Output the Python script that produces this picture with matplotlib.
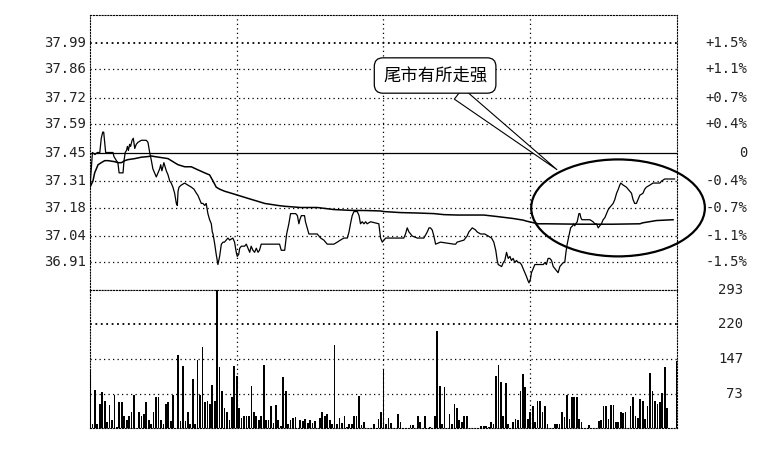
import matplotlib
matplotlib.use('Agg')
import matplotlib.pyplot as plt
from matplotlib.patches import Ellipse
from matplotlib.transforms import blended_transform_factory

# ---------------- data ----------------
prev_close = 37.45
price_labels = ["37.99", "37.86", "37.72", "37.59", "37.45", "37.31", "37.18", "37.04", "36.91"]
price_levels = [37.99, 37.86, 37.72, 37.59, 37.45, 37.31, 37.18, 37.04, 36.91]
pct_labels = ["+1.5%", "+1.1%", "+0.7%", "+0.4%", "0", "-0.4%", "-0.7%", "-1.1%", "-1.5%"]
vol_levels = [293, 220, 147, 73]
vol_labels = ["293", "220", "147", "73"]
session_marks = [60, 120, 180]

price_min = [0, 1, 2, 3, 4, 4.6, 5.2, 5.6, 6, 6.4, 9.4, 9.8, 10.8, 11.4, 11.9, 13.5, 13.9, 14.4, 14.9,
             15.3, 15.7, 16.2, 16.6, 17.2, 17.7, 18.3, 18.9, 19.6, 21, 23, 23.7, 24.4, 25.1, 25.7,
             26.4, 27.1, 27.8, 28.5, 28.9, 29.4, 30.2, 31.2, 31.9, 32.6, 33.2, 33.9, 34.6, 35.3,
             35.7, 36, 36.4, 37.3, 38.7, 40, 41.4, 42.5, 43.5, 44.1, 44.8, 45.5, 46.2, 46.9, 47.5,
             48.2, 48.9, 49.6, 50, 50.3, 51, 51.6, 52.3, 53, 53.7, 54.4, 55, 55.7, 56.4, 57.1, 58.4,
             59.1, 59.8, 60.2, 60.8, 61.2, 61.9, 63.2, 63.9, 64.6, 65.3, 65.9, 66.6, 67.3, 68, 68.7,
             69.3, 70, 77.5, 78.2, 79.6,
             80.4, 81.3, 82, 83.4, 84.1, 84.8, 85.4, 85.8, 86.4, 87.7, 88.1, 88.8, 89.5, 92.9, 94.3,
             95.6, 97, 99.7, 101.1, 102.4, 103.8, 105.2, 105.9, 106.5, 107.2, 107.9, 109.3, 110,
             110.6, 111.3, 112, 112.7, 113.3, 114.7, 118.1, 118.8, 119.5, 120.2, 120.9, 128.3, 129,
             129.7, 130.4, 131.1, 131.7, 133.8, 136.5, 137.9, 138.6, 139.2, 139.9, 140.6, 141.3,
             143.3, 148.8, 149.5, 150.1, 152.9, 153.5, 154.2, 154.9, 155.6, 156.3, 157.6, 158.3,
             159.7,
             161.4, 162.8, 164.2, 165.1, 165.9, 166.5, 166.9, 168.3, 169, 169.6, 170.3, 171, 171.7,
             172.3, 173, 173.7, 174.4, 175, 175.7, 176.4, 177.1, 177.8, 178.5, 179.1, 179.5, 180.1,
             180.5, 181.2, 181.9, 185.3, 186, 186.6, 187.3, 188, 188.7, 189.4, 190.7, 191.4, 192.1,
             192.8, 193.5, 194.1, 194.6, 195.1, 196, 196.5, 197.3, 197.8, 198.2, 198.6, 199.2,
             199.9, 200.3, 200.7, 201.1, 204.4, 205.7, 206.4, 207.1, 207.8, 208.4, 209.1, 209.8,
             210.5, 211.2, 211.9, 212.5, 213.2, 213.9, 214.6, 215.3, 216, 216.6, 217, 218, 219.3,
             220.7, 221.4, 222, 222.7, 223.4, 224.1, 224.8, 226.1, 226.8, 227.5, 228.9, 230.2, 233,
             233.7, 235, 239]
price_val = [37.28, 37.45, 37.44, 37.45, 37.45, 37.52, 37.55, 37.55, 37.50, 37.45, 37.45, 37.43, 37.41,
             37.40, 37.35, 37.35, 37.41, 37.45, 37.46, 37.48, 37.46, 37.49, 37.48, 37.51, 37.52,
             37.47, 37.49, 37.50, 37.51, 37.51, 37.50, 37.45, 37.41, 37.37, 37.35, 37.33, 37.35,
             37.37, 37.39, 37.36, 37.40, 37.36, 37.34, 37.31, 37.30, 37.28, 37.25, 37.20, 37.19,
             37.26, 37.28, 37.29, 37.30, 37.29, 37.28, 37.27, 37.25, 37.24, 37.22, 37.20, 37.20,
             37.19, 37.20, 37.15, 37.12, 37.10, 37.06, 37.05, 37.00, 36.95, 36.90, 36.94, 37.00,
             37.01, 37.01, 37.02, 37.03, 37.02, 37.03, 37.01, 36.96, 36.94, 36.95, 36.98, 36.99,
             36.99, 37.00, 36.98, 36.96, 36.99, 36.97, 36.96, 36.98, 36.96, 36.97, 37.00, 37.00,
             36.97, 36.97,
             37.05, 37.10, 37.15, 37.15, 37.15, 37.14, 37.10, 37.12, 37.14, 37.14, 37.11, 37.08,
             37.05, 37.05, 37.03, 37.02, 37.00, 37.00, 37.01, 37.02, 37.03, 37.03, 37.06, 37.10,
             37.14, 37.16, 37.16, 37.14, 37.10, 37.11, 37.10, 37.11, 37.10, 37.11, 37.10, 37.03,
             37.01, 37.02, 37.03, 37.03, 37.05, 37.08, 37.06, 37.05, 37.04, 37.03, 37.03, 37.06,
             37.08, 37.08, 37.07, 37.04, 37.00, 37.01, 37.00, 37.00, 37.01, 37.02, 37.03, 37.04,
             37.06, 37.07, 37.08, 37.07, 37.06, 37.05,
             37.05, 37.04, 37.03, 37.01, 36.97, 36.92, 36.90, 36.89, 36.91, 36.92, 36.96, 36.93,
             36.94, 36.92, 36.93, 36.91, 36.92, 36.91, 36.91, 36.90, 36.88, 36.86, 36.84, 36.82,
             36.81, 36.83, 36.86, 36.88, 36.90, 36.90, 36.91, 36.90, 36.93, 36.93, 36.92, 36.89,
             36.87, 36.86, 36.89, 36.90, 36.91, 36.91, 36.96, 37.00, 37.05, 37.08, 37.09, 37.10,
             37.09, 37.10, 37.11, 37.15, 37.15, 37.13, 37.12, 37.12, 37.11, 37.10, 37.10, 37.08,
             37.09, 37.10, 37.12, 37.13, 37.15, 37.17, 37.18, 37.19, 37.20, 37.22, 37.25, 37.27,
             37.29, 37.30, 37.29, 37.28, 37.26, 37.25, 37.22, 37.20, 37.20, 37.22, 37.24, 37.25,
             37.27, 37.28, 37.29, 37.30, 37.30, 37.31, 37.32, 37.32]

avg_min = [0, 1.2, 1.9, 2.6, 3.3, 4.6, 6, 7.4, 10.1, 11.4, 12.8, 14.2, 15.5, 18.3, 21, 23.7, 25.1, 26.4,
           29.2, 31.9, 34.6, 36, 38.7, 41.4, 44.1, 46.9, 48.9, 50.3, 51.6, 53, 55, 57.8, 60.5, 63.2,
           65.9, 68.7, 71.4, 74.1, 76.8, 79.6, 86.1, 92.9, 99.7, 106.5, 113.3, 118.8, 120.2, 127,
           133.8, 140.6, 144.7, 150.1, 161, 166.2, 173, 177.1, 178.5, 183.2, 186.6, 200.3, 213.9,
           224.8, 226.1, 231.6, 238.4]
avg_val = [37.28, 37.31, 37.35, 37.37, 37.39, 37.40, 37.41, 37.41, 37.405, 37.40, 37.40, 37.41, 37.415,
           37.42, 37.427, 37.43, 37.433, 37.43, 37.425, 37.42, 37.40, 37.39, 37.38, 37.38, 37.365,
           37.35, 37.34, 37.31, 37.28, 37.27, 37.26, 37.25, 37.24, 37.23, 37.22, 37.21, 37.20,
           37.195, 37.19, 37.186, 37.18, 37.18, 37.17, 37.166, 37.165, 37.163, 37.16, 37.155,
           37.153, 37.15, 37.145, 37.143, 37.143, 37.136, 37.126, 37.118, 37.113, 37.10, 37.10,
           37.098, 37.098, 37.10, 37.105, 37.116, 37.12]

volume = [122, 8, 81, 8, 52, 77, 58, 12, 49, 16,
          71, 3, 55, 55, 26, 16, 26, 35, 71, 1,
          35, 26, 30, 55, 16, 8, 35, 65, 65, 16,
          8, 52, 55, 14, 71, 1, 154, 14, 131, 14,
          33, 8, 103, 8, 144, 69, 173, 56, 58, 51,
          91, 58, 293, 129, 79, 42, 35, 16, 65, 131,
          111, 42, 21, 26, 26, 26, 90, 35, 26, 17,
          26, 134, 17, 16, 46, 10, 49, 16, 5, 109,
          79, 8, 16, 21, 23, 1, 16, 14, 19, 10,
          16, 10, 14, 1, 21, 33, 26, 30, 17, 8,
          176, 8, 21, 10, 26, 3, 8, 8, 26, 26,
          67, 7, 13, 1, 1, 1, 8, 1, 19, 33,
          124, 8, 21, 10, 1, 1, 30, 13, 1, 1,
          1, 7, 7, 1, 26, 13, 1, 26, 1, 3,
          1, 26, 205, 90, 8, 86, 1, 30, 8, 51,
          42, 17, 12, 26, 26, 1, 1, 1, 1, 1,
          5, 5, 5, 3, 12, 8, 111, 134, 98, 26,
          96, 8, 1, 12, 19, 17, 79, 115, 86, 19,
          35, 47, 12, 58, 58, 33, 47, 8, 1, 1,
          8, 8, 8, 35, 24, 71, 19, 65, 65, 65,
          19, 12, 1, 1, 7, 1, 1, 1, 14, 16,
          46, 46, 19, 49, 49, 13, 12, 33, 32, 33,
          1, 46, 65, 26, 21, 62, 58, 19, 47, 116,
          79, 58, 52, 55, 74, 129, 42, 1, 1, 1, 143]
vol_minutes = list(range(len(volume)))

note_text = "尾市有所走强"

# ---------------- figure ----------------
fig = plt.figure(figsize=(7.66, 4.51), dpi=100)
fig.patch.set_facecolor('white')
ax = fig.add_axes([0.1175, 0.357, 0.7663, 0.6097])
axv = fig.add_axes([0.1175, 0.051, 0.7663, 0.306])

dot = (0, (1, 2.6))
border = (0, (1, 1.6))

for a in (ax, axv):
    a.set_xlim(0, 240)
    a.set_xticks([])
    a.set_yticks([])
    for s in a.spines.values():
        s.set_linestyle(border)
        s.set_linewidth(0.8)
        s.set_color('black')
    for m in session_marks:
        a.axvline(m, color='black', lw=0.9, ls=dot, zorder=1)

ax.set_ylim(36.775, 38.125)
axv.set_ylim(0, 293)

for lv in price_levels:
    if lv == prev_close:
        ax.axhline(lv, color='black', lw=0.9, zorder=2)
    elif lv == price_levels[0]:
        ax.axhline(lv, color='black', lw=1.3, ls=(0, (1, 2.0)), zorder=1)
    else:
        ax.axhline(lv, color='black', lw=0.9, ls=dot, zorder=1)

for lv in vol_levels[1:]:
    if lv == vol_levels[1]:
        axv.axhline(lv, color='black', lw=1.3, ls=(0, (1, 2.0)), zorder=1)
    else:
        axv.axhline(lv, color='black', lw=0.9, ls=dot, zorder=1)

# lines
ax.plot(avg_min, avg_val, color='black', lw=1.1, zorder=3)
ax.plot(price_min, price_val, color='black', lw=0.9, zorder=4)

# volume bars
axv.bar(vol_minutes, volume, width=0.7, color='black', linewidth=0, zorder=3)

# axis labels
mono = 'DejaVu Sans Mono'
tl = blended_transform_factory(ax.transAxes, ax.transData)
for lv, lab, pl in zip(price_levels, price_labels, pct_labels):
    ax.text(-0.0068, lv, lab, transform=tl, ha='right', va='center', fontsize=10,
            family=mono, color='#222222')
    ax.text(1.1193, lv, pl, transform=tl, ha='right', va='center', fontsize=10,
            family=mono, color='#222222')
tv = blended_transform_factory(axv.transAxes, axv.transData)
for lv, lab in zip(vol_levels, vol_labels):
    axv.text(1.1124, lv, lab, transform=tv, ha='right', va='center', fontsize=10,
             family=mono, color='#222222')

# ellipse highlight
ell = Ellipse((215.9, 37.178), width=71.0, height=0.476, fill=False, lw=1.6,
              edgecolor='black', clip_on=False, zorder=6)
ax.add_patch(ell)

# callout
ax.annotate(note_text, xy=(190.9, 37.366), xytext=(141.1, 37.828), textcoords='data',
            ha='center', va='center', fontsize=12.5,
            family=['Noto Sans CJK SC', 'DejaVu Sans'],
            bbox=dict(boxstyle='round,pad=0.5,rounding_size=0.5', fc='white', ec='black', lw=0.9),
            arrowprops=dict(arrowstyle='wedge,tail_width=0.8,shrink_factor=0.5', fc='white',
                            ec='black', lw=0.8, shrinkA=0, shrinkB=0),
            zorder=7, annotation_clip=False)

fig.savefig('out.png', dpi=100, facecolor='white')
